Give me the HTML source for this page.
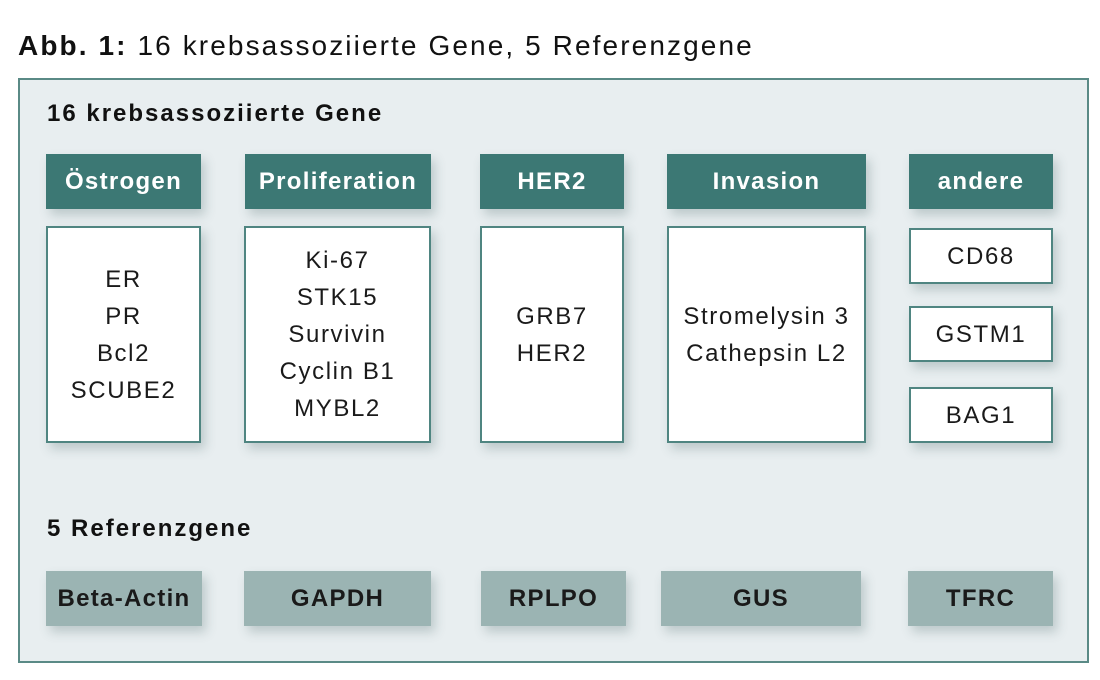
<!DOCTYPE html>
<html><head><meta charset="utf-8"><style>
body{margin:0;width:1100px;height:680px;background:#fff;font-family:"Liberation Sans",sans-serif;position:relative;overflow:hidden}
.a{position:absolute;display:flex;align-items:center;justify-content:center;text-align:center;box-sizing:border-box;white-space:nowrap}
.h{background:#3c7874;color:#fff;font-weight:bold;font-size:24px;letter-spacing:1.3px;box-shadow:4px 6px 10px rgba(60,90,90,.25)}
.w{background:#fff;border:2px solid #4f8581;font-size:24px;letter-spacing:1.6px;line-height:37px;color:#1a1a1a;box-shadow:4px 6px 10px rgba(60,90,90,.25)}
.r{background:#9bb4b3;color:#1a1a1a;font-weight:bold;font-size:24px;letter-spacing:1.3px;box-shadow:4px 6px 10px rgba(60,90,90,.25)}
</style></head><body>
<div style="position:absolute;left:18px;top:30px;font-size:28px;letter-spacing:2.1px;color:#111;white-space:nowrap"><b>Abb. 1:</b> 16 krebsassoziierte Gene, 5 Referenzgene</div>
<div style="position:absolute;left:18px;top:78px;width:1071px;height:585px;box-sizing:border-box;border:2px solid #5a8a86;background:#e8eef0"></div>
<div style="position:absolute;left:47px;top:100px;font-size:24px;letter-spacing:2px;font-weight:bold;color:#111;white-space:nowrap">16 krebsassoziierte Gene</div>
<div style="position:absolute;left:47px;top:515px;font-size:24px;letter-spacing:2px;font-weight:bold;color:#111;white-space:nowrap">5 Referenzgene</div>

<div class="a h" style="left:46px;top:154px;width:155px;height:55px">Östrogen</div>
<div class="a h" style="left:245px;top:154px;width:186px;height:55px">Proliferation</div>
<div class="a h" style="left:480px;top:154px;width:144px;height:55px">HER2</div>
<div class="a h" style="left:667px;top:154px;width:199px;height:55px">Invasion</div>
<div class="a h" style="left:909px;top:154px;width:144px;height:55px">andere</div>

<div class="a w" style="left:46px;top:226px;width:155px;height:217px">ER<br>PR<br>Bcl2<br>SCUBE2</div>
<div class="a w" style="left:244px;top:226px;width:187px;height:217px">Ki-67<br>STK15<br>Survivin<br>Cyclin B1<br>MYBL2</div>
<div class="a w" style="left:480px;top:226px;width:144px;height:217px">GRB7<br>HER2</div>
<div class="a w" style="left:667px;top:226px;width:199px;height:217px">Stromelysin 3<br>Cathepsin L2</div>
<div class="a w" style="left:909px;top:228px;width:144px;height:56px">CD68</div>
<div class="a w" style="left:909px;top:306px;width:144px;height:56px">GSTM1</div>
<div class="a w" style="left:909px;top:387px;width:144px;height:56px">BAG1</div>

<div class="a r" style="left:46px;top:571px;width:156px;height:55px">Beta-Actin</div>
<div class="a r" style="left:244px;top:571px;width:187px;height:55px">GAPDH</div>
<div class="a r" style="left:481px;top:571px;width:145px;height:55px">RPLPO</div>
<div class="a r" style="left:661px;top:571px;width:200px;height:55px">GUS</div>
<div class="a r" style="left:908px;top:571px;width:145px;height:55px">TFRC</div>
</body></html>
